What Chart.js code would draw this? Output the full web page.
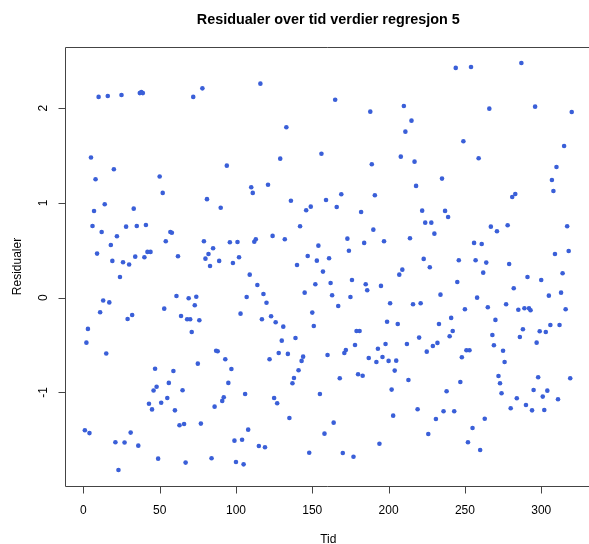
<!DOCTYPE html>
<html>
<head>
<meta charset="utf-8">
<script src="https://cdn.jsdelivr.net/npm/chart.js@4/dist/chart.umd.min.js"></script>
<style>
  html, body { margin: 0; padding: 0; overflow: hidden; background: #fff; }
  #resChart { position: absolute; left: 0; top: 0; }
</style>
</head>
<body>
<canvas id="resChart" width="589" height="544"></canvas>
<script>
// residuals, one per time step (Tid = 1..320)
const residualer = [
  -1.40, -0.475, -0.33, -1.43, 1.48, 0.757, 0.915, 1.25, 0.465, 2.12,
  -0.154, 0.694, -0.03, 0.986, -0.59, 2.13, -0.05, 0.556, 0.388, 1.356,
  -1.527, 0.648, -1.82, 0.218, 2.14, 0.374, -1.53, 0.75, -0.225, 0.35,
  -1.425, -0.183, 0.94, 0.433, 0.757, -1.563, 2.16, 2.17, 2.16, 0.427,
  0.768, 0.483, -1.12, 0.483, -1.18, -0.98, -0.75, -0.94, -1.70, 1.28,
  -1.11, 1.106, -0.116, 0.595, -1.06, -0.90, 0.694, 0.686, -0.774, -1.19,
  0.018, 0.437, -1.347, -0.193, -0.978, -1.334, -1.742, -0.228, -0.007, -0.228,
  -0.362, 2.12, -0.08, 0.01, -0.697, -0.239, -1.33, 2.21, 0.595, 0.412,
  1.04, 0.461, 0.335, -1.696, 0.522, -1.151, -0.56, -0.566, 0.388, 0.95,
  -1.09, -1.052, -0.65, 1.394, -0.90, 0.585, -0.753, 0.366, -1.51, -1.735,
  0.588, 0.427, -0.169, -1.50, -1.76, -1.017, 0.007, -1.394, 0.243, 1.166,
  1.106, 0.59, 0.617, 0.134, -1.566, 2.26, -0.228, 0.039, -1.58, -0.053,
  1.193, -0.65, -0.196, 0.652, -1.059, -0.26, -1.115, -0.584, 1.468, -0.454,
  -0.306, 0.617, 1.80, -0.594, -1.27, 1.024, -0.904, -0.848, -0.426, 0.345,
  -0.767, 0.754, -0.668, -0.623, 0.053, 0.923, 0.44, -1.637, 0.961, -0.158,
  -0.299, 0.141, 0.391, 0.549, -1.017, 1.52, 0.275, -1.436, 1.032, -0.605,
  0.416, 0.155, 0.025, -1.32, 2.09, 0.958, -0.088, -0.851, 1.092, -1.64,
  -0.584, -0.552, 0.623, 0.496, 0.007, 0.187, -1.68, -0.50, -0.352, -0.809,
  -0.352, 0.905, -0.824, 0.578, 0.141, 0.078, -0.637, 1.964, 1.409, 0.718,
  1.081, -0.679, -0.539, -1.542, 0.124, -0.626, 0.595, -0.489, -0.254, -0.668,
  -0.059, -0.971, -1.246, -0.77, -0.665, -0.278, 0.243, 1.489, 0.296, 2.024,
  1.753, -0.489, -0.869, 0.627, 1.869, -0.07, 1.436, 1.18, -1.178, -0.422,
  -0.059, 0.919, 0.409, 0.792, -0.57, -1.44, 0.321, 0.792, -0.51, 0.676,
  -1.281, -0.478, -0.278, 0.032, 1.257, -1.2, 0.916, -0.988, 0.852, -0.408,
  -0.214, -0.352, -1.2, 2.426, 0.166, 0.395, -0.891, -0.63, 1.652, -0.123,
  -0.556, -1.527, -0.556, 2.436, -1.376, 0.578, 0.395, 0.0, 1.472, -1.608,
  0.567, 0.264, -1.278, 0.37, -0.101, 1.996, 0.75, -0.394, -0.503, -0.235,
  0.701, -0.827, -0.904, -1.01, -0.56, -0.679, -0.07, 0.765, 0.356, -1.168,
  1.063, 0.099, 1.095, -1.062, -0.127, -0.415, 2.478, -0.334, -0.112, -1.133,
  0.218, -0.112, -0.133, -1.19, -0.975, 2.017, -0.475, -0.84, -0.355, 0.187,
  -1.045, -1.186, -0.362, -0.982, 0.021, -0.288, 1.243, 1.127, 0.461, 1.38,
  -1.073, -0.288, 0.053, 0.258, 1.602, -0.123, 0.754, 0.493, -0.851, 1.961
];
const tid = residualer.map((_, i) => i + 1);

const xTicks = [0, 50, 100, 150, 200, 250, 300];
const yTicks = [-1, 0, 1, 2];

const tittel = 'Residualer over tid verdier regresjon 5';
const xTittel = 'Tid';
const yTittel = 'Residualer';

const FONT = '"Liberation Sans", Arial, Helvetica, sans-serif';

// R style box (its right edge lies past the picture), axes and labels
const rAxes = {
  id: 'rAxes',
  afterDraw(chart) {
    const ctx = chart.ctx;
    const a = chart.chartArea;
    const x = chart.scales.x, y = chart.scales.y;
    const L = Math.round(a.left) + 0.5;
    const T = Math.round(a.top) + 0.5;
    const B = Math.round(a.bottom) + 0.5;
    const R = chart.width + 2;
    ctx.save();
    ctx.strokeStyle = '#444';
    ctx.lineWidth = 1;
    ctx.beginPath();
    ctx.moveTo(R, T);
    ctx.lineTo(L, T);
    ctx.lineTo(L, B);
    ctx.lineTo(R, B);
    ctx.stroke();

    ctx.fillStyle = '#000';
    ctx.font = '12px ' + FONT;

    // x axis
    ctx.beginPath();
    xTicks.forEach(v => {
      const px = Math.round(x.getPixelForValue(v)) + 0.5;
      ctx.moveTo(px, B);
      ctx.lineTo(px, B + 7);
    });
    ctx.stroke();
    ctx.textAlign = 'center';
    ctx.textBaseline = 'alphabetic';
    xTicks.forEach(v => ctx.fillText(String(v), x.getPixelForValue(v), 513.5));

    // y axis
    ctx.beginPath();
    yTicks.forEach(v => {
      const py = Math.round(y.getPixelForValue(v)) + 0.5;
      ctx.moveTo(L, py);
      ctx.lineTo(L - 7, py);
    });
    ctx.stroke();
    yTicks.forEach(v => {
      ctx.save();
      ctx.translate(46.5, y.getPixelForValue(v));
      ctx.rotate(-Math.PI / 2);
      ctx.fillText(String(v), 0, 0);
      ctx.restore();
    });

    // axis titles, centred on the whole R plot region
    const midX = (x.getPixelForValue(-11.76) + x.getPixelForValue(332.76)) / 2;
    ctx.fillText(xTittel, midX, 542.5);
    ctx.save();
    ctx.translate(20.5, (a.top + a.bottom) / 2);
    ctx.rotate(-Math.PI / 2);
    ctx.fillText(yTittel, 0, 0);
    ctx.restore();

    // title
    ctx.font = 'bold 14.4px ' + FONT;
    ctx.fillText(tittel, midX, 24);
    ctx.restore();
  }
};

new Chart(document.getElementById('resChart'), {
  type: 'scatter',
  data: {
    datasets: [{
      label: yTittel,
      data: tid.map((t, i) => ({ x: t, y: residualer[i] })),
      backgroundColor: '#3a5fd8',
      borderWidth: 0,
      pointRadius: 2.3,
      pointHoverRadius: 2.3
    }]
  },
  options: {
    responsive: false,
    animation: false,
    layout: { padding: { left: 65.4, right: 0, top: 46.7, bottom: 57.7 } },
    scales: {
      // the plot region is cut at the picture edge, so x stops at 329.8
      x: { type: 'linear', min: -11.76, max: 329.8, display: false },
      y: { type: 'linear', min: -1.992, max: 2.65, display: false }
    },
    plugins: {
      legend: { display: false },
      tooltip: { enabled: false }
    }
  },
  plugins: [rAxes]
});
</script>
</body>
</html>
